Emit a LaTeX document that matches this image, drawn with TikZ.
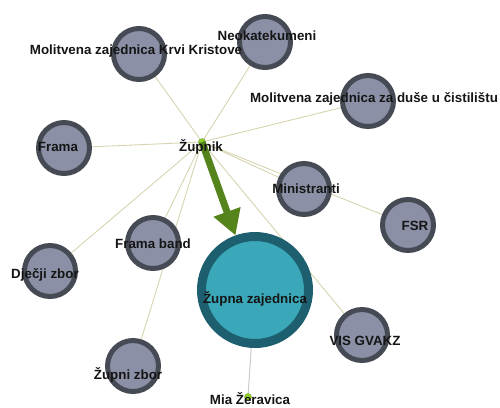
\documentclass[tikz,border=0pt]{standalone}
\usepackage{fontspec}
\setmainfont{Liberation Sans}
\usetikzlibrary{arrows.meta}
\pgfdeclarelayer{bg}
\pgfsetlayers{bg,main}
\definecolor{grayfill}{HTML}{8B90A6}
\definecolor{grayedge}{HTML}{464A55}
\definecolor{tealfill}{HTML}{3AA8B8}
\definecolor{tealedge}{HTML}{1D5F6E}
\definecolor{linkcol}{HTML}{D6D3AE}
\definecolor{arrowcol}{HTML}{55841C}
\definecolor{dotcol}{HTML}{8ED22A}
\definecolor{txt}{HTML}{151515}
\tikzset{
  grp/.style={circle, draw=grayedge, fill=grayfill, line width=5*0.02cm, minimum size=51*0.02cm, inner sep=0pt},
  big/.style={circle, draw=tealedge, fill=tealfill, line width=9*0.02cm, minimum size=107*0.02cm, inner sep=0pt},
  person/.style={circle, fill=dotcol, draw=dotcol!70!black, line width=0.2pt, minimum size=7*0.02cm, inner sep=0pt},
  lbl/.style={font=\bfseries\fontsize{7.6}{9}\selectfont, text=txt, inner sep=0pt},
  link/.style={draw=linkcol, line width=0.5pt},
  heavy/.style={draw=arrowcol, line width=7*0.02cm, -{Triangle[length=25*0.02cm, width=27*0.02cm]}}
}
\begin{document}
\begin{tikzpicture}[x=0.02cm, y=-0.02cm]
\useasboundingbox (0,0) rectangle (500,407);
% circles
\node[grp] (krvi) at (139,54) {};
\node[grp] (neo) at (265,42) {};
\node[grp] (dus) at (368,101) {};
\node[grp] (frama) at (64,148) {};
\node[grp] (min) at (304,189) {};
\node[grp] (fsr) at (408,225) {};
\node[grp] (band) at (153,243) {};
\node[grp] (djecji) at (50,271) {};
\node[grp] (zzbor) at (133,366) {};
\node[grp] (vis) at (362,335) {};
\node[big] (zz) at (255,290) {};
\node[person] (zupnik) at (202,142) {};
\node[person] (mia) at (248,397) {};
% links
\begin{pgfonlayer}{bg}
\foreach \t in {krvi,neo,dus,frama,min,fsr,band,djecji,zzbor,vis}
  \draw[link] (zupnik.center) -- (\t.center);
\draw[draw=black!20, line width=0.6pt] (zz.center) -- (mia.center);
\end{pgfonlayer}
\draw[heavy] (zupnik.center) -- (zz);
% labels
\node[lbl] (lkrvi) at (136,51) {Molitvena zajednica Krvi Kristove};
\node[lbl] (lneo) at (267,36) {Neokatekumeni};
\node[lbl] (ldus) at (374,99) {Molitvena zajednica za duše u čistilištu};
\node[lbl] (lframa) at (58,147) {Frama};
\node[lbl] (lmin) at (306,189) {Ministranti};
\node[lbl] (lfsr) at (415,226) {FSR};
\node[lbl] (lband) at (153,244) {Frama band};
\node[lbl] (ldjecji) at (45,275) {Dječji zbor};
\node[lbl] (lzzbor) at (128,375) {Župni zbor};
\node[lbl] (lvis) at (365,341) {VIS GVAKZ};
\node[lbl] (lzz) at (255,299) {Župna zajednica};
\node[lbl] (lzupnik) at (201,147) {Župnik};
\node[lbl] (lmia) at (250,399) {Mia Žeravica};
\end{tikzpicture}
\end{document}
